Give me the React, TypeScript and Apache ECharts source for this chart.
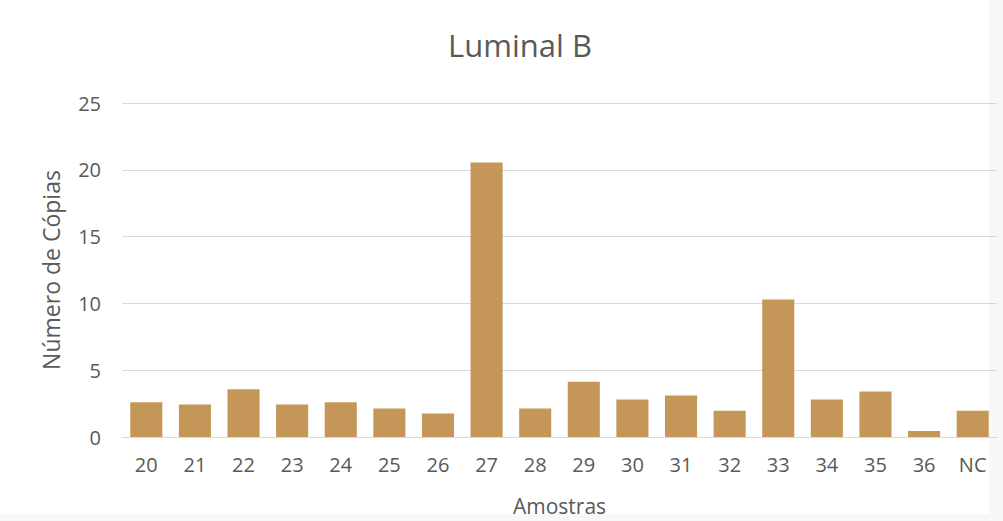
import React, { useEffect, useRef } from "react";
import * as echarts from "echarts";

const categories = ["20", "21", "22", "23", "24", "25", "26", "27", "28", "29", "30", "31", "32", "33", "34", "35", "36", "NC"];
const copies = [2.6, 2.43, 3.57, 2.43, 2.6, 2.13, 1.76, 20.55, 2.13, 4.14, 2.8, 3.1, 1.96, 10.3, 2.8, 3.4, 0.45, 1.96];
const yTicks = [0, 5, 10, 15, 20, 25];

const TEXT = "#595959";
const FONT = "'Open Sans', 'Noto Sans', sans-serif";

export default function App() {
  const ref = useRef<HTMLDivElement>(null);
  useEffect(() => {
    if (!ref.current) return;
    const chart = echarts.init(ref.current, undefined, { renderer: "svg" });
    chart.setOption({
      animation: false,
      backgroundColor: "#ffffff",
      textStyle: { fontFamily: FONT },
      graphic: [
        { type: "rect", z: -10, shape: { x: 989, y: 0, width: 14, height: 521 }, style: { fill: "#f8f8f8" }, silent: true },
        { type: "rect", z: -10, shape: { x: 0, y: 514, width: 1003, height: 7 }, style: { fill: "#f8f8f8" }, silent: true },
      ],
      title: {
        text: "Luminal B",
        left: 515,
        textAlign: "center",
        top: 24,
        textStyle: { fontSize: 31, fontWeight: "normal", color: TEXT, fontFamily: FONT },
      },
      grid: { left: 122, right: 6, top: 103, bottom: 82, containLabel: false },
      xAxis: {
        type: "category",
        data: categories,
        name: "Amostras",
        nameLocation: "middle",
        nameGap: 58,
        nameTextStyle: { fontSize: 21, color: TEXT, fontFamily: FONT },
        axisLine: { show: true, lineStyle: { color: "#d9d9d9", width: 1 } },
        axisTick: { show: false },
        axisLabel: { fontSize: 20, color: TEXT, margin: 17, fontFamily: FONT },
      },
      yAxis: {
        type: "value",
        min: yTicks[0],
        max: yTicks[yTicks.length - 1],
        interval: 5,
        name: "Número de Cópias",
        nameLocation: "middle",
        nameGap: 60,
        nameTextStyle: { fontSize: 23, color: TEXT, fontFamily: FONT },
        axisLine: { show: false },
        axisTick: { show: false },
        axisLabel: { fontSize: 20, color: TEXT, margin: 21, fontFamily: FONT },
        splitLine: { lineStyle: { color: "#d9d9d9", width: 1 } },
      },
      series: [
        {
          type: "bar",
          data: copies,
          barCategoryGap: "34%",
          itemStyle: { color: "#c49759" },
        },
      ],
    });
    return () => chart.dispose();
  }, []);
  return (
    <div
      ref={ref}
      style={{ position: "fixed", left: 0, top: 0, width: 1003, height: 521 }}
    />
  );
}
